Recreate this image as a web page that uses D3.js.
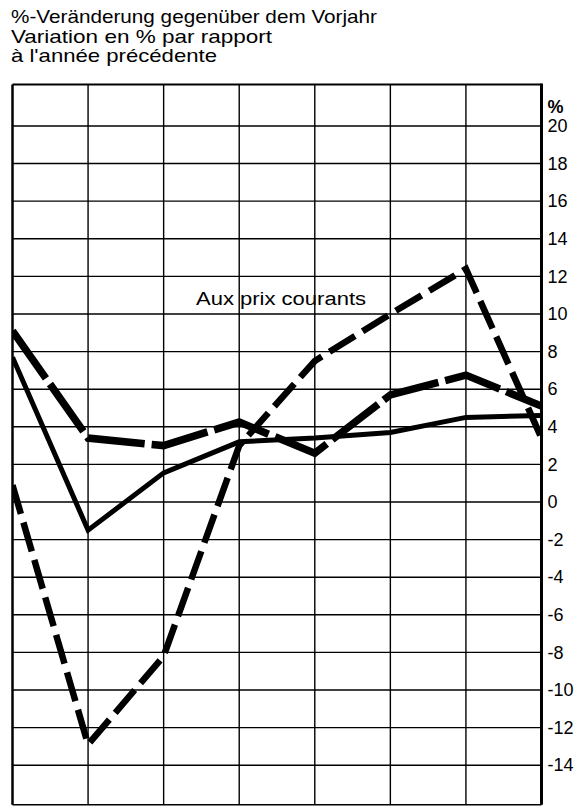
<!DOCTYPE html>
<html>
<head>
<meta charset="utf-8">
<script src="https://cdn.jsdelivr.net/npm/d3@7"></script>
<style>
  html, body { margin: 0; padding: 0; background: #fff; }
  svg { display: block; }
  text { font-family: "Liberation Sans", Arial, Helvetica, sans-serif; fill: #000; }
</style>
</head>
<body>
<svg id="chart" width="587" height="806"></svg>
<script>
// ---- data ----
const titleLines = [
  "%-Veränderung gegenüber dem Vorjahr",
  "Variation en % par rapport",
  "à l'année précédente"
];
const periods = ["P1", "P2", "P3", "P4", "P5", "P6", "P7", "P8"];
const seriesCourants = [0.9, -12.9, -8.2, 3.0, 7.5, 10.0, 12.4, 3.4];   // dashed, "Aux prix courants"
const seriesLongDash = [9.1, 3.4, 3.0, 4.25, 2.6, 5.7, 6.75, 5.1];      // thick long dashes
const seriesSolid    = [7.7, -1.5, 1.55, 3.2, 3.4, 3.7, 4.5, 4.6];      // solid
const yTickValues = [20, 18, 16, 14, 12, 10, 8, 6, 4, 2, 0, -2, -4, -6, -8, -10, -12, -14];
const yUnitLabel = "%";
const seriesLabel = "Aux prix courants";

// ---- layout ----
(function () {
const svg = d3.select("#chart");
const left = 12.5, right = 541.5;
const x = d3.scalePoint().domain(periods).range([left, right]);
const y = d3.scaleLinear().domain([-16.1, 22.2]).range([804.7, 84.6]);
const yTop = y(22.2), yBottom = y(-16.1);

// title
const titleWidths = [366, 261, 206];
const titleBase = [23, 42.5, 62];
svg.append("g").selectAll("text").data(titleLines).join("text")
  .attr("x", 11)
  .attr("y", (d, i) => titleBase[i])
  .attr("font-size", 19)
  .attr("textLength", (d, i) => titleWidths[i])
  .attr("lengthAdjust", "spacingAndGlyphs")
  .text(d => d);

// grid: horizontal
const grid = svg.append("g").attr("stroke", "#000").attr("stroke-width", 1.4);
grid.selectAll("line.h").data(yTickValues).join("line")
  .attr("class", "h")
  .attr("x1", left).attr("x2", right)
  .attr("y1", d => y(d)).attr("y2", d => y(d));
// grid: vertical
grid.selectAll("line.v").data(periods.slice(1, -1)).join("line")
  .attr("class", "v")
  .attr("x1", d => x(d)).attr("x2", d => x(d))
  .attr("y1", yTop).attr("y2", yBottom);

// clip
svg.append("clipPath").attr("id", "plotclip")
  .append("rect").attr("x", left).attr("y", yTop).attr("width", right - left).attr("height", yBottom - yTop);

const line = d3.line().x((d, i) => x(periods[i])).y(d => y(d));
const lines = svg.append("g").attr("clip-path", "url(#plotclip)")
  .attr("fill", "none").attr("stroke", "#000")
  .attr("stroke-linejoin", "miter").attr("stroke-linecap", "butt");

lines.append("path").datum(seriesSolid)
  .attr("d", line).attr("stroke-width", 5);
lines.append("path").datum(seriesLongDash)
  .attr("d", line).attr("stroke-width", 7.5).attr("stroke-dasharray", "58 7");
lines.append("path").datum(seriesCourants)
  .attr("d", line).attr("stroke-width", 6.5).attr("stroke-dasharray", "30 9");

// frame
const frame = svg.append("g").attr("stroke", "#000");
frame.append("line").attr("x1", left).attr("x2", left).attr("y1", yTop).attr("y2", yBottom).attr("stroke-width", 2.5);
frame.append("line").attr("x1", right).attr("x2", right).attr("y1", yTop - 1).attr("y2", yBottom).attr("stroke-width", 3);
frame.append("line").attr("x1", left).attr("x2", right).attr("y1", yTop).attr("y2", yTop).attr("stroke-width", 2);
frame.append("line").attr("x1", left).attr("x2", right).attr("y1", yBottom).attr("y2", yBottom).attr("stroke-width", 1.4);

// right axis labels
const axis = svg.append("g").attr("transform", `translate(${right},0)`)
  .call(d3.axisRight(y).tickValues(yTickValues).tickSize(0).tickPadding(6).tickFormat(d => d < 0 ? "-" + Math.abs(d) : String(d)));
axis.select(".domain").remove();
axis.selectAll("text").attr("font-size", 18).attr("font-family", "'Liberation Sans', Arial, sans-serif").attr("fill", "#000");
svg.append("text").attr("x", right + 6).attr("y", y(21.0)).attr("dy", "0.32em")
  .attr("font-size", 18).attr("font-weight", "bold").text(yUnitLabel);

// series label
svg.append("text").attr("x", 196).attr("y", 305)
  .attr("font-size", 18).attr("textLength", 170).attr("lengthAdjust", "spacingAndGlyphs")
  .text(seriesLabel);
})();
</script>
</body>
</html>
